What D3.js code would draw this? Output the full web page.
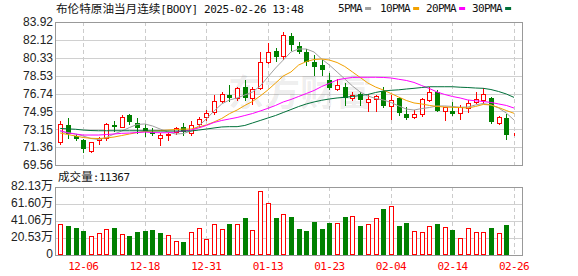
<!DOCTYPE html>
<html>
<head>
<meta charset="utf-8">
<script src="https://cdn.jsdelivr.net/npm/d3@7/dist/d3.min.js"></script>
<style>
	body { margin: 0; background: #fff; }
	svg { display: block; }
</style>
</head>
<body>
<div id="chart"></div>
<script>
// trading days shown (MM-DD)
const dates = [
	'12-03', '12-04', '12-05', '12-06', '12-09', '12-10', '12-11', '12-12', '12-13', '12-16',
	'12-17', '12-18', '12-19', '12-20', '12-23', '12-24', '12-26', '12-27', '12-30', '12-31',
	'01-02', '01-03', '01-06', '01-07', '01-08', '01-09', '01-10', '01-13', '01-14', '01-15',
	'01-16', '01-17', '01-20', '01-21', '01-22', '01-23', '01-24', '01-27', '01-28', '01-29',
	'01-30', '01-31', '02-03', '02-04', '02-05', '02-06', '02-07', '02-10', '02-11', '02-12',
	'02-13', '02-14', '02-17', '02-18', '02-19', '02-20', '02-21', '02-24', '02-25', '02-26',
];

const opens = [
	71.90, 73.58, 72.44, 72.04, 70.97, 72.07, 72.24, 73.55, 73.41, 74.58,
	73.75, 73.25, 72.84, 72.24, 72.57, 72.84, 73.41, 72.74, 73.65, 74.38,
	74.91, 75.99, 76.59, 76.26, 77.39, 76.26, 77.26, 79.93, 81.01, 80.51,
	82.51, 81.51, 80.94, 79.93, 79.60, 78.10, 77.19, 77.42, 76.26, 76.66,
	75.86, 76.16, 76.99, 75.48, 76.26, 74.68, 74.35, 74.65, 76.09, 76.92,
	75.01, 75.01, 74.75, 75.31, 75.92, 76.09, 76.32, 73.81, 74.31, 72.67,
];
const highs = [
	73.98, 74.31, 72.64, 72.14, 71.90, 72.35, 73.78, 73.98, 74.58, 74.65,
	74.25, 73.65, 73.25, 72.74, 72.74, 73.38, 73.75, 73.98, 74.41, 75.08,
	76.59, 76.92, 77.60, 77.42, 78.10, 77.42, 80.88, 81.78, 81.28, 82.89,
	82.85, 81.91, 81.21, 80.60, 80.10, 78.77, 78.20, 77.76, 76.92, 76.92,
	76.69, 76.59, 77.42, 76.59, 76.42, 75.35, 75.08, 76.26, 77.42, 77.09,
	75.42, 75.92, 75.59, 76.09, 76.92, 77.26, 76.42, 74.48, 74.68, 72.74,
];
const lows = [
	71.70, 72.24, 72.07, 70.84, 70.82, 71.65, 72.10, 72.97, 73.35, 73.65,
	72.74, 72.50, 72.57, 71.57, 72.04, 72.64, 72.57, 72.57, 73.41, 74.08,
	74.65, 75.86, 75.99, 76.09, 76.09, 75.65, 77.19, 79.77, 80.00, 80.17,
	81.11, 80.78, 79.60, 78.60, 78.60, 77.19, 77.09, 75.59, 76.09, 75.59,
	75.01, 75.01, 75.35, 74.18, 74.58, 74.18, 74.25, 74.51, 76.02, 75.01,
	74.08, 74.58, 74.18, 74.92, 75.82, 75.76, 73.81, 73.68, 72.17, 72.60,
];
const closes = [
	73.65, 72.64, 72.20, 71.14, 71.84, 72.27, 73.65, 73.38, 74.38, 73.91,
	73.31, 72.97, 72.67, 72.57, 72.64, 73.25, 72.84, 73.58, 74.15, 74.81,
	75.99, 76.69, 76.32, 77.26, 76.32, 77.19, 79.87, 80.94, 80.44, 82.61,
	81.61, 80.88, 79.87, 79.43, 79.10, 77.26, 77.60, 76.26, 76.59, 76.09,
	76.19, 76.52, 75.52, 76.09, 74.75, 74.31, 74.68, 76.19, 76.92, 75.01,
	75.42, 74.68, 75.35, 75.82, 76.16, 76.69, 73.91, 74.41, 72.57, 72.70,
];

// volume in 万 (10k lots)
const volumes = [
	37.4, 35.0, 32.6, 29.4, 22.9, 26.6, 31.4, 33.0, 25.4, 22.9,
	28.2, 29.4, 30.6, 27.0, 24.2, 17.3, 15.9, 27.6, 32.4, 19.0,
	37.0, 31.0, 37.4, 37.0, 44.7, 29.8, 76.9, 62.4, 44.7, 49.1,
	45.9, 31.4, 29.0, 39.9, 31.4, 38.7, 38.3, 45.9, 46.7, 35.0,
	37.2, 44.5, 55.6, 59.2, 35.0, 38.7, 29.0, 27.8, 35.0, 37.4,
	33.8, 30.2, 20.5, 32.6, 27.8, 27.8, 32.6, 26.6, 36.2, 1.1367,
];
const lastVolume = 11367;

// moving averages
const ma5 = [
	72.92, 72.82, 72.67, 72.47, 72.22, 72.12, 72.32, 72.67, 72.97, 73.32,
	73.63, 73.68, 73.48, 73.17, 72.87, 72.67, 72.72, 72.97, 73.48, 74.18,
	74.98, 75.69, 76.09, 76.29, 76.59, 76.89, 77.49, 78.40, 79.30, 80.10,
	80.91, 81.21, 81.21, 80.91, 80.20, 79.60, 78.90, 78.20, 77.49, 76.89,
	76.49, 76.24, 76.09, 75.84, 75.49, 75.18, 75.08, 75.23, 75.33, 75.49,
	75.49, 75.44, 75.36, 75.38, 75.59, 75.74, 75.59, 75.28, 74.78, 74.08,
];
const ma10 = [
	72.77, 72.62, 72.47, 72.32, 72.24, 72.22, 72.27, 72.37, 72.52, 72.67,
	72.82, 72.92, 72.97, 73.02, 73.07, 73.12, 73.17, 73.17, 73.38, 73.58,
	73.88, 74.23, 74.71, 75.08, 75.54, 75.94, 76.49, 77.09, 77.79, 78.50,
	78.90, 79.60, 79.95, 80.15, 80.20, 80.10, 79.85, 79.45, 78.90, 78.35,
	77.79, 77.39, 77.09, 76.74, 76.39, 76.04, 75.79, 75.69, 75.54, 75.44,
	75.38, 75.35, 75.33, 75.28, 75.44, 75.64, 75.59, 75.33, 75.03, 74.75,
];
const ma20 = [
	73.02, 72.77, 72.67, 72.57, 72.57, 72.57, 72.62, 72.67, 72.74, 72.77,
	72.82, 72.87, 72.82, 72.80, 72.80, 72.87, 72.97, 73.07, 73.28, 73.53,
	73.83, 74.03, 74.18, 74.33, 74.53, 74.73, 74.98, 75.25, 75.54, 75.89,
	76.14, 76.44, 76.74, 77.04, 77.44, 77.76, 78.10, 78.25, 78.35, 78.37,
	78.37, 78.37, 78.35, 78.30, 78.17, 78.05, 77.85, 77.54, 77.24, 76.89,
	76.64, 76.44, 76.29, 76.09, 76.01, 75.94, 75.84, 75.69, 75.54, 75.28,
];
const ma30 = [
	73.23, 73.19, 73.15, 73.07, 73.02, 73.00, 73.00, 73.00, 73.00, 73.00,
	73.00, 73.00, 72.99, 72.97, 72.97, 72.97, 72.97, 72.97, 73.07, 73.17,
	73.28, 73.38, 73.41, 73.41, 73.53, 73.78, 74.03, 74.28, 74.53, 74.83,
	75.13, 75.43, 75.69, 75.89, 76.06, 76.19, 76.29, 76.36, 76.44, 76.54,
	76.64, 76.84, 76.99, 77.06, 77.11, 77.19, 77.26, 77.34, 77.42, 77.42,
	77.42, 77.42, 77.37, 77.34, 77.29, 77.26, 77.14, 76.94, 76.69, 76.35,
];

const tickDates = [ '12-06', '12-18', '12-31', '01-13', '01-23', '02-04', '02-14', '02-26' ];
const priceTicks = [ 69.56, 71.36, 73.15, 74.95, 76.74, 78.53, 80.33, 82.12, 83.92 ];
const volTicks = [ 0, 20.53, 41.06, 61.60, 82.13 ];

const maSeries = [
	{ label: '5PMA', values: ma5, color: '#a0a0a0' },
	{ label: '10PMA', values: ma10, color: '#f2a100' },
	{ label: '20PMA', values: ma20, color: '#ff00ff' },
	{ label: '30PMA', values: ma30, color: '#00703a' },
];

const UP = '#ff0000';
const DOWN = '#008000';
const monoFont = '"DejaVu Sans Mono", "Noto Sans CJK SC", monospace';
const cjkFont = '"Noto Sans CJK SC", sans-serif';

const width = 578,
	height = 276;
const plot = { left: 55, right: 522 };
const priceBox = { top: 22, bottom: 165 };
const volBox = { top: 187, bottom: 255 };

const rows = dates.map( ( d, i ) => ( {
	date: d,
	open: opens[ i ],
	high: highs[ i ],
	low: lows[ i ],
	close: closes[ i ],
	volume: volumes[ i ],
	// volume colour follows the change against the previous close
	volUp: i === 0 ? true : closes[ i ] >= closes[ i - 1 ],
} ) );

const svg = d3
	.select( '#chart' )
	.append( 'svg' )
	.attr( 'width', width )
	.attr( 'height', height );

const x = d3.scalePoint().domain( dates ).range( [ 60.2, 514 ] );
const y = d3
	.scaleLinear()
	.domain( [ priceTicks[ 0 ], priceTicks[ priceTicks.length - 1 ] ] )
	.range( [ priceBox.bottom, priceBox.top ] );
const yVol = d3
	.scaleLinear()
	.domain( [ 0, volTicks[ volTicks.length - 1 ] ] )
	.range( [ volBox.bottom, volBox.top ] );

const px = ( v ) => Math.round( v ) + 0.5;

// Grid for both panels
function drawGrid( scale, ticks, box ) {
	const g = svg.append( 'g' ).attr( 'shape-rendering', 'crispEdges' );
	g.selectAll( 'line.h' )
		.data( ticks )
		.join( 'line' )
		.attr( 'x1', plot.left )
		.attr( 'x2', plot.right )
		.attr( 'y1', ( d ) => px( scale( d ) ) )
		.attr( 'y2', ( d ) => px( scale( d ) ) )
		.attr( 'stroke', '#d0d0d0' );
	g.selectAll( 'line.v' )
		.data( tickDates )
		.join( 'line' )
		.attr( 'x1', ( d ) => px( x( d ) ) )
		.attr( 'x2', ( d ) => px( x( d ) ) )
		.attr( 'y1', box.top )
		.attr( 'y2', box.bottom )
		.attr( 'stroke', '#cccccc' )
		.attr( 'stroke-dasharray', '4,3' );
	g.append( 'rect' )
		.attr( 'x', plot.left + 0.5 )
		.attr( 'y', box.top + 0.5 )
		.attr( 'width', plot.right - plot.left )
		.attr( 'height', box.bottom - box.top )
		.attr( 'fill', 'none' )
		.attr( 'stroke', '#999' );
}

drawGrid( y, priceTicks, priceBox );
drawGrid( yVol, volTicks, volBox );

// Watermark
svg.append( 'text' )
	.attr( 'x', 228 )
	.attr( 'y', 106 )
	.attr( 'font-family', cjkFont )
	.attr( 'font-size', 36 )
	.attr( 'font-weight', 'bold' )
	.attr( 'fill', '#000' )
	.attr( 'fill-opacity', 0.08 )
	.text( '东方财富' );

// Price axis labels
svg.append( 'g' )
	.attr( 'transform', `translate(${ plot.left },0)` )
	.call( d3.axisLeft( y ).tickValues( priceTicks ).tickFormat( ( d ) => d.toFixed( 2 ) ).tickSize( 0 ).tickPadding( 2 ) )
	.call( ( g ) => g.select( '.domain' ).remove() )
	.selectAll( 'text' )
	.attr( 'font-family', '"Liberation Sans", Arial, sans-serif' )
	.attr( 'font-size', 12 )
	.attr( 'fill', '#222' );

// Volume axis labels
svg.append( 'g' )
	.attr( 'transform', `translate(${ plot.left },-1)` )
	.call( d3.axisLeft( yVol ).tickValues( volTicks ).tickFormat( ( d ) => ( d === 0 ? '0' : `${ d.toFixed( 2 ) }万` ) ).tickSize( 0 ).tickPadding( 2 ) )
	.call( ( g ) => g.select( '.domain' ).remove() )
	.selectAll( 'text' )
	.attr( 'font-family', '"Liberation Sans", "Noto Sans CJK SC", sans-serif' )
	.attr( 'font-size', 12 )
	.attr( 'fill', '#222' );

// Candles
const candles = svg.append( 'g' ).attr( 'shape-rendering', 'crispEdges' );
rows.forEach( ( d ) => {
	const cx = Math.round( x( d.date ) );
	const up = d.close >= d.open;
	const color = up ? UP : DOWN;
	const top = Math.round( y( Math.max( d.open, d.close ) ) );
	const bottom = Math.round( y( Math.min( d.open, d.close ) ) );
	candles.append( 'line' )
		.attr( 'x1', cx + 0.5 )
		.attr( 'x2', cx + 0.5 )
		.attr( 'y1', Math.round( y( d.high ) ) )
		.attr( 'y2', Math.round( y( d.low ) ) + 1 )
		.attr( 'stroke', color );
	if ( up ) {
		candles.append( 'rect' )
			.attr( 'x', cx - 2 + 0.5 )
			.attr( 'y', top + 0.5 )
			.attr( 'width', 5 - 1 )
			.attr( 'height', Math.max( bottom - top, 0 ) )
			.attr( 'fill', '#fff' )
			.attr( 'stroke', color );
	} else {
		candles.append( 'rect' )
			.attr( 'x', cx - 2 )
			.attr( 'y', top )
			.attr( 'width', 5 )
			.attr( 'height', Math.max( bottom - top, 1 ) )
			.attr( 'fill', color );
	}
} );

// Moving average lines
const clip = svg.append( 'clipPath' ).attr( 'id', 'price-clip' );
clip.append( 'rect' )
	.attr( 'x', plot.left )
	.attr( 'y', priceBox.top )
	.attr( 'width', plot.right - plot.left )
	.attr( 'height', priceBox.bottom - priceBox.top );

maSeries.forEach( ( s ) => {
	const line = d3
		.line()
		.x( ( d, i ) => x( dates[ i ] ) )
		.y( ( d ) => y( d ) );
	svg.append( 'path' )
		.datum( s.values )
		.attr( 'clip-path', 'url(#price-clip)' )
		.attr( 'fill', 'none' )
		.attr( 'stroke', s.color )
		.attr( 'stroke-width', 1 )
		.attr( 'd', line );
} );

// Volume bars
const bars = svg.append( 'g' ).attr( 'shape-rendering', 'crispEdges' );
rows.forEach( ( d ) => {
	const cx = Math.round( x( d.date ) );
	const top = Math.round( yVol( d.volume ) );
	if ( d.volUp ) {
		bars.append( 'rect' )
			.attr( 'x', cx - 2 + 0.5 )
			.attr( 'y', top + 0.5 )
			.attr( 'width', 4 )
			.attr( 'height', Math.max( volBox.bottom - top - 1, 0 ) )
			.attr( 'fill', '#fff' )
			.attr( 'stroke', UP );
	} else {
		bars.append( 'rect' )
			.attr( 'x', cx - 2 )
			.attr( 'y', top )
			.attr( 'width', 5 )
			.attr( 'height', volBox.bottom - top )
			.attr( 'fill', DOWN );
	}
} );

// Date labels
svg.append( 'g' )
	.selectAll( 'text' )
	.data( tickDates )
	.join( 'text' )
	.attr( 'x', ( d ) => x( d ) )
	.attr( 'y', 270 )
	.attr( 'text-anchor', 'middle' )
	.attr( 'font-family', monoFont )
	.attr( 'font-size', 11 )
	.attr( 'letter-spacing', -0.6 )
	.attr( 'fill', '#ff0000' )
	.text( ( d ) => d );

// Title
const title = svg.append( 'text' ).attr( 'x', 56 ).attr( 'y', 13 ).attr( 'fill', '#111' );
title.append( 'tspan' ).attr( 'font-family', cjkFont ).attr( 'font-size', 11.6 ).text( '布伦特原油当月连续' );
title.append( 'tspan' ).attr( 'font-family', monoFont ).attr( 'font-size', 11 ).attr( 'letter-spacing', -0.4 ).text( '[BOOY] 2025-02-26 13:48' );

// Legend
const legendX = [ 338, 380, 426, 472 ];
maSeries.forEach( ( s, i ) => {
	const t = svg.append( 'text' )
		.attr( 'x', legendX[ i ] )
		.attr( 'y', 12 )
		.attr( 'font-family', monoFont )
		.attr( 'font-size', 11 )
		.attr( 'letter-spacing', -0.6 )
		.attr( 'fill', '#111' )
		.text( s.label );
	const w = t.node().getComputedTextLength();
	svg.append( 'rect' )
		.attr( 'x', legendX[ i ] + w + 3 )
		.attr( 'y', 7 )
		.attr( 'width', 6 )
		.attr( 'height', 3 )
		.attr( 'fill', s.color );
} );

// Volume header
const volTitle = svg.append( 'text' ).attr( 'x', 58 ).attr( 'y', 181 ).attr( 'fill', '#111' );
volTitle.append( 'tspan' ).attr( 'font-family', cjkFont ).attr( 'font-size', 11.6 ).text( '成交量' );
volTitle.append( 'tspan' ).attr( 'font-family', monoFont ).attr( 'font-size', 11 ).attr( 'letter-spacing', -0.5 ).text( `:${ lastVolume }` );
</script>
</body>
</html>
